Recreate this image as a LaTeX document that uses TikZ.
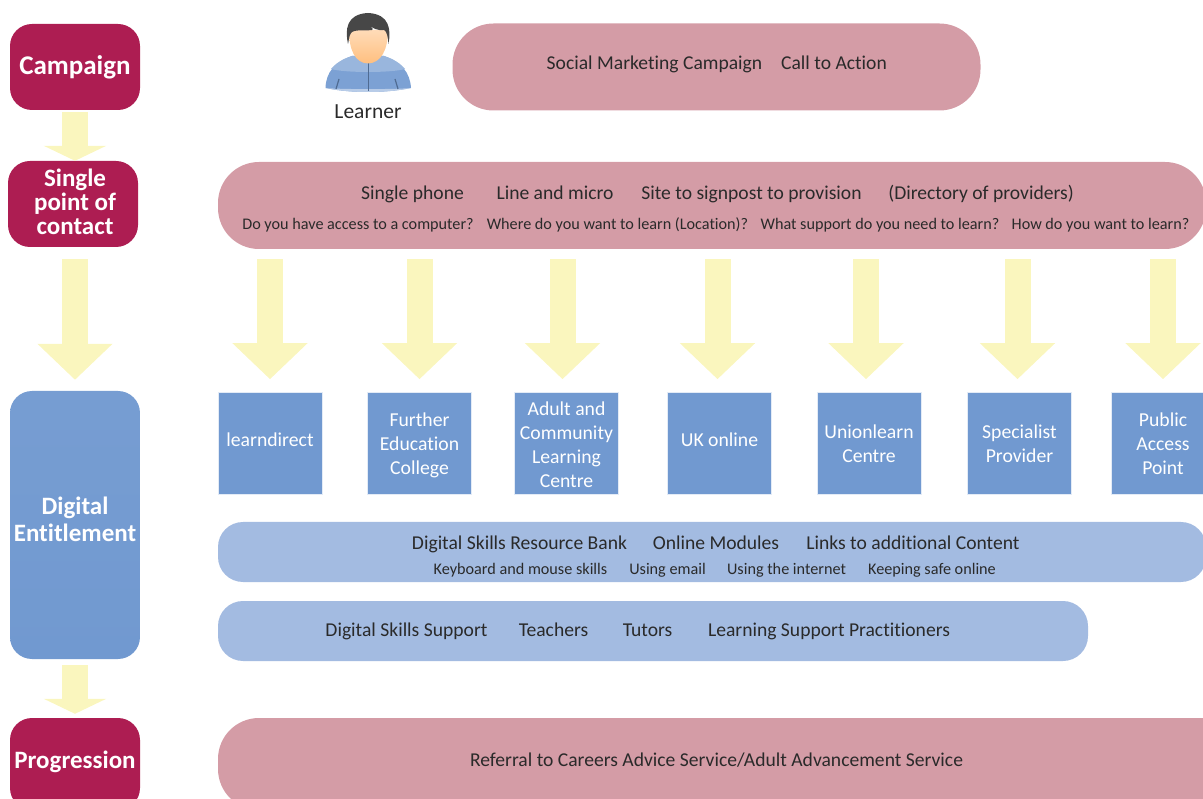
\documentclass[tikz,border=0pt]{standalone}
\usepackage{fontspec}
\setmainfont[Ligatures=NoCommon]{Carlito}
\usepackage{xcolor}
\usepackage{tikz}
\usetikzlibrary{arrows.meta,positioning,calc}
\definecolor{crimson}{HTML}{AD1D52}
\definecolor{dustypink}{HTML}{D49CA6}
\definecolor{midblue}{HTML}{7199D0}
\definecolor{paleblue}{HTML}{A3BBE1}
\definecolor{paleyellow}{HTML}{FAF6BE}
\definecolor{inktext}{HTML}{2A2A2A}
\tikzset{%
  stage box/.style={%
    rounded corners=22pt,
    fill=crimson,
    text=white,
    inner sep=0pt,
    align=center,
    minimum width=130pt,
    font=\fontsize{25}{24}\selectfont\bfseries
  }
}
\tikzset{%
  stage label/.style={%
    anchor=base,
    inner sep=0pt,
    text=white,
    align=center,
    font=\fontsize{25}{28}\selectfont\bfseries
  }
}
\tikzset{%
  pink pill/.style={%
    rounded corners=41pt,
    fill=dustypink,
    inner sep=0pt
  }
}
\tikzset{%
  blue pill/.style={%
    rounded corners=25pt,
    fill=paleblue,
    inner sep=0pt
  }
}
\tikzset{%
  provider box/.style={%
    fill=midblue,
    draw=paleblue!30,
    line width=0.6pt,
    text=white,
    inner sep=0pt,
    align=center,
    minimum width=104pt,
    minimum height=102pt,
    font=\fontsize{19.7}{24}\selectfont
  }
}
\tikzset{%
  big label/.style={%
    anchor=base,
    inner sep=0pt,
    text=inktext,
    font=\fontsize{19.6}{24}\selectfont
  }
}
\tikzset{%
  small label/.style={%
    anchor=base,
    inner sep=0pt,
    text=inktext,
    font=\fontsize{16.2}{20}\selectfont
  }
}
\tikzset{%
  flow long/.style={%
    draw=paleyellow,
    line width=26pt,
    -{Triangle[length=36pt,width=73pt,fill=paleyellow]}
  }
}
\tikzset{%
  flow short/.style={%
    draw=paleyellow,
    line width=26pt,
    -{Triangle[length=15pt,width=62pt,fill=paleyellow]}
  }
}

\begin{document}
\begin{tikzpicture}[x=1pt,y=-1pt]
  \clip (0,0) rectangle (1203,799);

  \node [stage box, minimum height=86pt, font=\fontsize{27}{24}\selectfont\bfseries] (campaign) at (75,67) {Campaign};
  \node [stage box, minimum height=86pt] (contactbox) at (73,204) {};
  \node [stage label, font=\fontsize{25}{24}\selectfont\bfseries] (contact) at (75,235) {Single\\point of\\contact};
  \node [stage box, minimum height=268pt, fill=none, top color=midblue!96!white, bottom color=midblue] (entitlement) at (75,525) {};
  \node [stage label] (entitlementlabel) at (75,542) {Digital\\Entitlement};
  \node [stage box, minimum height=92pt] (progression) at (75,764) {};
  \node [stage label] (progressionlabel) at (75,768) {Progression};

  % learner figure
  \fill [midblue!92!white] (325.5,88) .. controls (326,72) and (335,62) .. (352,56) -- (384,56) .. controls (401,62) and (410,72) .. (411,88) .. controls (396,91) and (382,92) .. (368,92) .. controls (354,92) and (340,91) .. (325.5,88) -- cycle;
  \fill [midblue!72!white] (352,56) .. controls (342,59) and (335,64) .. (331,69) .. controls (345,73) and (391,73) .. (405,69) .. controls (401,64) and (394,59) .. (384,56) -- cycle;
  \fill [midblue!50!white] (325.5,88) .. controls (340,91) and (354,92) .. (368,92) .. controls (382,92) and (396,91) .. (411,88) .. controls (396,89.5) and (340,89.5) .. (325.5,88) -- cycle;
  \draw [midblue!70!black, line width=0.8pt] (368,62) -- (368,91);
  \draw [midblue!70!black, line width=1.2pt] (339,79) -- (336,89);
  \draw [midblue!70!black, line width=1.2pt] (395,79) -- (398,89);
  \shade [top color=orange!28!white, bottom color=orange!50!white] (349,30) .. controls (349,50) and (355,63) .. (368,63.5) .. controls (381,63) and (388,50) .. (388,30) -- cycle;
  \fill [black!72] (348,44) .. controls (345,30) and (346,14) .. (368,13) .. controls (390,14) and (391,30) .. (388.5,44) .. controls (388,38) and (387,31) .. (384,30) .. controls (378,31) and (372,28) .. (369,25) .. controls (373,29) and (374,30) .. (372,30) .. controls (365,31) and (354,29) .. (351,33) .. controls (349,36) and (349,40) .. (348,44) -- cycle;
  \node [big label, font=\fontsize{21.5}{24}\selectfont] (learner) at (368,119) {Learner};

  % pills
  \node [pink pill, minimum width=528pt, minimum height=87pt] (socialpill) at (716.5,67) {};
  \node [big label] (social) at (654.5,70) {Social Marketing Campaign};
  \node [big label] (calltoaction) at (834,70) {Call to Action};

  \node [pink pill, minimum width=988pt, minimum height=87pt] (phonepill) at (712,205.5) {};
  \node [big label] (phone) at (412.5,200) {Single phone};
  \node [big label] (linemicro) at (555,200) {Line and micro};
  \node [big label] (signpost) at (751.5,200) {Site to signpost to provision};
  \node [big label] (directory) at (981,200) {(Directory of providers)};
  \node [small label] (access) at (358,230) {Do you have access to a computer?};
  \node [small label] (location) at (617.5,230) {Where do you want to learn (Location)?};
  \node [small label] (support) at (880,230) {What support do you need to learn?};
  \node [small label] (how) at (1100.5,230) {How do you want to learn?};

  \node [provider box] (learndirect) at (270,443.5) {\raisebox{7pt}{learndirect}};
  \node [provider box] (further) at (419.5,443.5) {\rule{0pt}{18pt}Further\\Education\\College};
  \node [provider box] (adult) at (566.5,443.5) {\rule{0pt}{17pt}Adult and\\Community\\Learning\\Centre};
  \node [provider box] (ukonline) at (719.5,443.5) {\raisebox{7pt}{UK online}};
  \node [provider box] (unionlearn) at (869,443.5) {Unionlearn\\Centre};
  \node [provider box] (specialist) at (1019.5,443.5) {Specialist\\Provider};
  \node [provider box] (public) at (1163,443.5) {Public\\Access\\Point};

  \node [blue pill, minimum width=988pt, minimum height=60pt] (bankpill) at (712,552) {};
  \node [big label] (bank) at (519.5,550) {Digital Skills Resource Bank};
  \node [big label] (modules) at (716,550) {Online Modules};
  \node [big label] (links) at (913,550) {Links to additional Content};
  \node [small label] (keyboard) at (520.5,574) {Keyboard and mouse skills};
  \node [small label] (email) at (667.5,574) {Using email};
  \node [small label] (internet) at (786.5,574) {Using the internet};
  \node [small label] (safe) at (932,574) {Keeping safe online};

  \node [blue pill, minimum width=870pt, minimum height=60pt] (supportpill) at (653,631) {};
  \node [big label] (skills) at (406.5,636) {Digital Skills Support};
  \node [big label] (teachers) at (553.5,636) {Teachers};
  \node [big label] (tutors) at (647.5,636) {Tutors};
  \node [big label] (practitioners) at (829,636) {Learning Support Practitioners};

  \node [pink pill, minimum width=1022pt, minimum height=92pt] (referralpill) at (729,764) {};
  \node [big label] (referral) at (716.5,766) {Referral to Careers Advice Service/Adult Advancement Service};

  % flow arrows
  \draw [flow short, shorten <=2pt, shorten >=0pt] (campaign.south) -- (campaign.south |- contactbox.north);
  \draw [flow long, shorten <=12pt, shorten >=11pt] (campaign.south |- contactbox.south) -- (entitlement.north);
  \draw [flow short, shorten <=6pt, shorten >=4pt] (entitlement.south) -- (progression.north);

  \draw [flow long, shorten <=10pt, shorten >=13pt] (learndirect.north |- phonepill.south) -- (learndirect.north);
  \draw [flow long, shorten <=10pt, shorten >=13pt] (further.north |- phonepill.south) -- (further.north);
  \draw [flow long, shorten <=10pt, shorten >=13pt] ([xshift=-4pt]adult.north |- phonepill.south) -- ([xshift=-4pt]adult.north);
  \draw [flow long, shorten <=10pt, shorten >=13pt] ([xshift=-2pt]ukonline.north |- phonepill.south) -- ([xshift=-2pt]ukonline.north);
  \draw [flow long, shorten <=10pt, shorten >=13pt] ([xshift=-3pt]unionlearn.north |- phonepill.south) -- ([xshift=-3pt]unionlearn.north);
  \draw [flow long, shorten <=10pt, shorten >=13pt] ([xshift=-2pt]specialist.north |- phonepill.south) -- ([xshift=-2pt]specialist.north);
  \draw [flow long, shorten <=10pt, shorten >=13pt] (public.north |- phonepill.south) -- (public.north);
\end{tikzpicture}
\end{document}
